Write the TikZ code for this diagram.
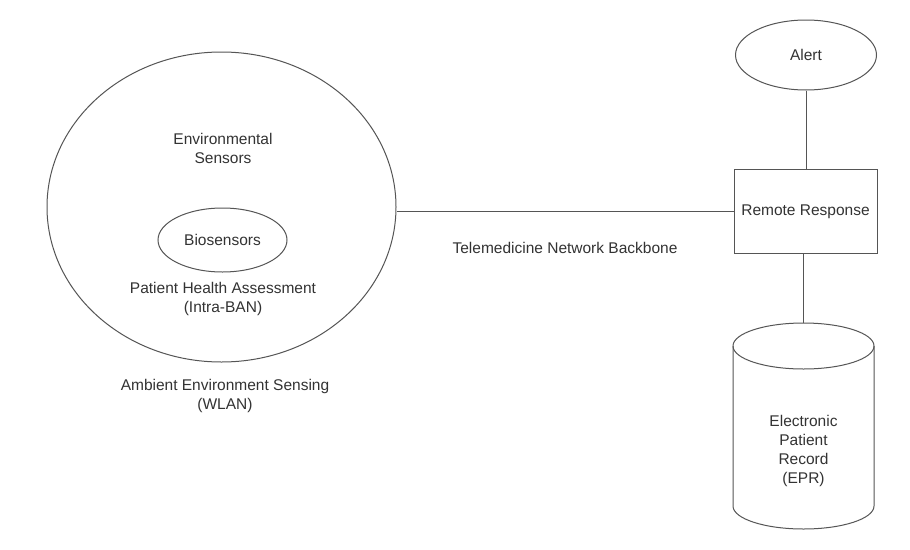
\documentclass[tikz,border=0pt]{standalone}
\usepackage{fontspec}
\setmainfont{Liberation Sans}
\usetikzlibrary{shapes.geometric}
\definecolor{ink}{HTML}{333333}
\definecolor{edgecol}{HTML}{555555}
\begin{document}
\begin{tikzpicture}[x=1pt,y=-1pt,
  every node/.style={text=ink, font=\fontsize{15.5}{19}\selectfont, align=center},
  oval/.style={draw=edgecol, line width=1pt, ellipse, inner sep=0pt},
  conn/.style={draw=edgecol, line width=1pt}]
\useasboundingbox[fill=white] (0,0) rectangle (910,549);
% left cluster
\node[oval, minimum width=349pt, minimum height=310pt] (env) at (221.5,207) {};
\node (envs) at (223,148.5) {Environmental\\Sensors};
\node[oval, minimum width=129pt, minimum height=64pt] (bio) at (222.5,240) {Biosensors};
\node (pha) at (223,299) {Patient Health Assessment\\(Intra-BAN)};
\node (aes) at (225,395.5) {Ambient Environment Sensing\\(WLAN)};
% backbone
\node (tnb) at (565,248) {Telemedicine Network Backbone};
% right side
\node[draw=edgecol, line width=1pt, minimum width=143pt, minimum height=84pt, inner sep=0pt] (rr) at (805.5,211.5) {Remote Response};
\node[oval, minimum width=141pt, minimum height=70pt] (alert) at (806,55) {Alert};
% cylinder (EPR)
\draw[conn] (803.5,346) ellipse [x radius=70.5pt, y radius=23pt];
\draw[conn] (733,346) -- (733,506) arc[start angle=180, end angle=360, x radius=70.5pt, y radius=23pt] -- (874,346);
\node (epr) at (803.5,450.5) {Electronic\\Patient\\Record\\(EPR)};
\coordinate (eprtop) at (803.5,323);
% connectors
\draw[conn] (rr.west) -- (rr.west -| env.east);
\draw[conn] (alert) -- (alert |- rr.north);
\draw[conn] (rr.south -| eprtop) -- (eprtop);
\end{tikzpicture}
\end{document}
